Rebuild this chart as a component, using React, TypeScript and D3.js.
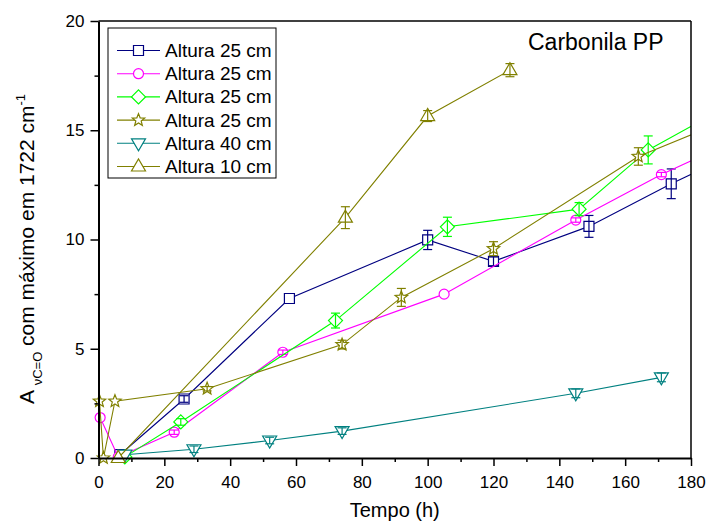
import * as d3 from 'd3';
import React, { useEffect, useRef } from 'react';

// Data (time in h, absorbance, error bar half-height)
const legendLabels = ['Altura 25 cm', 'Altura 25 cm', 'Altura 25 cm', 'Altura 25 cm', 'Altura 40 cm', 'Altura 10 cm'];

const hoursSquare = [6.5, 26, 58, 100, 120, 149, 174, 190];
const valuesSquare = [0.15, 2.7, 7.3, 9.98, 9.0, 10.6, 12.55, 13.7];
const errorsSquare = [0.1, 0.15, 0, 0.44, 0.2, 0.5, 0.68, 0];

const hoursCircle = [0.5, 6, 23, 56, 105, 145, 171, 190];
const valuesCircle = [1.85, 0.05, 1.18, 4.84, 7.5, 10.89, 12.97, 14.3];
const errorsCircle = [0, 0, 0.1, 0.1, 0, 0.1, 0.1, 0];

const hoursDiamond = [8, 25, 72, 106, 146, 167, 190];
const valuesDiamond = [0.05, 1.65, 6.29, 10.58, 11.39, 14.1, 16.0];
const errorsDiamond = [0, 0.15, 0.34, 0.44, 0.3, 0.64, 0];

const hoursStar = [0.3, 1.5, 5, 33, 74, 92, 120, 164, 190];
const valuesStar = [2.6, 0, 2.6, 3.17, 5.19, 7.35, 9.58, 13.8, 15.4];
const errorsStar = [0, 0, 0, 0.1, 0.2, 0.41, 0.32, 0.4, 0];

const hoursDown = [8, 29, 52, 74, 145, 171];
const valuesDown = [0.15, 0.4, 0.8, 1.23, 2.96, 3.69];
const errorsDown = [0, 0.15, 0.15, 0.15, 0.2, 0.2];

const hoursUp = [6, 75, 100, 125];
const valuesUp = [0, 11.0, 15.65, 17.75];
const errorsUp = [0, 0.5, 0.25, 0.3];

const xTicks = [0, 20, 40, 60, 80, 100, 120, 140, 160, 180];
const yTicks = [0, 5, 10, 15, 20];

const FONT = '"Liberation Sans", Arial, sans-serif';

// marker outlines centred on 0,0
function markerPath(shape) {
  switch (shape) {
    case 'square':
      return 'M-5,-5H5V5H-5Z';
    case 'circle':
      return 'M-5,0A5,5 0 1,0 5,0A5,5 0 1,0 -5,0Z';
    case 'diamond':
      return 'M0,-7L7,0L0,7L-7,0Z';
    case 'star': {
      const pts = d3.range(10).map(i => {
        const r = i % 2 === 0 ? 6.5 : 2.8;
        const a = (Math.PI / 5) * i - Math.PI / 2;
        return [r * Math.cos(a), r * Math.sin(a)];
      });
      return 'M' + pts.map(p => p.join(',')).join('L') + 'Z';
    }
    case 'down':
      return 'M-7,-4.5L7,-4.5L0,7.5Z';
    case 'up':
      return 'M-7,4.5L7,4.5L0,-7.5Z';
    default:
      return '';
  }
}

function App() {
  const myRef = useRef(null);

  useEffect(() => {
    const svg = d3.select(myRef.current);
    svg.selectAll('*').remove();

    const left = 98.5, right = 691, top = 21, bottom = 458;

    const xScale = d3.scaleLinear().domain([0, 180]).range([left, right]);
    const yScale = d3.scaleLinear().domain([0, 20]).range([bottom, top]);

    const series = [
      { label: legendLabels[0], color: '#000080', shape: 'square', hours: hoursSquare, values: valuesSquare, errors: errorsSquare },
      { label: legendLabels[1], color: '#ff00ff', shape: 'circle', hours: hoursCircle, values: valuesCircle, errors: errorsCircle },
      { label: legendLabels[2], color: '#00ff00', shape: 'diamond', hours: hoursDiamond, values: valuesDiamond, errors: errorsDiamond },
      { label: legendLabels[3], color: '#808000', shape: 'star', hours: hoursStar, values: valuesStar, errors: errorsStar },
      { label: legendLabels[4], color: '#008080', shape: 'down', hours: hoursDown, values: valuesDown, errors: errorsDown },
      { label: legendLabels[5], color: '#808000', shape: 'up', hours: hoursUp, values: valuesUp, errors: errorsUp },
    ];

    svg.append('defs').append('clipPath').attr('id', 'plot-clip')
      .append('rect')
      .attr('x', left).attr('y', top)
      .attr('width', right - left).attr('height', bottom - top);

    const line = d3.line()
      .x(d => xScale(d[0]))
      .y(d => yScale(d[1]));

    // lines, markers and error bars, series after series
    series.forEach(s => {
      const pts = s.hours.map((h, i) => [h, s.values[i], s.errors[i]]);
      const g = svg.append('g');

      g.append('path')
        .attr('d', line(pts))
        .attr('fill', 'none')
        .attr('stroke', s.color)
        .attr('stroke-width', 1.1)
        .attr('clip-path', 'url(#plot-clip)');

      const shown = pts.filter(p => p[0] <= 180);

      g.selectAll('.mark')
        .data(shown)
        .join('path')
        .attr('class', 'mark')
        .attr('transform', d => `translate(${xScale(d[0])},${yScale(d[1])})`)
        .attr('d', markerPath(s.shape))
        .attr('fill', 'white')
        .attr('stroke', s.color)
        .attr('stroke-width', 1.2);

      const bars = g.selectAll('.err')
        .data(shown.filter(p => p[2] > 0))
        .join('g')
        .attr('class', 'err')
        .attr('stroke', s.color)
        .attr('stroke-width', 1.2);
      bars.append('line')
        .attr('x1', d => xScale(d[0])).attr('x2', d => xScale(d[0]))
        .attr('y1', d => yScale(d[1] - d[2])).attr('y2', d => yScale(d[1] + d[2]));
      bars.append('line')
        .attr('x1', d => xScale(d[0]) - 4.5).attr('x2', d => xScale(d[0]) + 4.5)
        .attr('y1', d => yScale(d[1] + d[2])).attr('y2', d => yScale(d[1] + d[2]));
      bars.append('line')
        .attr('x1', d => xScale(d[0]) - 4.5).attr('x2', d => xScale(d[0]) + 4.5)
        .attr('y1', d => yScale(d[1] - d[2])).attr('y2', d => yScale(d[1] - d[2]));
    });

    // frame top / right
    svg.append('line')
      .attr('x1', left).attr('x2', right).attr('y1', top).attr('y2', top)
      .attr('stroke', 'black').attr('stroke-width', 1.5);
    svg.append('line')
      .attr('x1', right).attr('x2', right).attr('y1', top).attr('y2', bottom)
      .attr('stroke', 'black').attr('stroke-width', 1.5);

    // x axis (minor then major)
    svg.append('g')
      .attr('transform', `translate(0,${bottom})`)
      .call(d3.axisBottom(xScale).tickValues(d3.range(10, 180, 20)).tickSize(4).tickSizeOuter(0).tickFormat(() => ''))
      .call(g => g.select('.domain').remove())
      .call(g => g.selectAll('line').attr('stroke-width', 1.5));
    svg.append('g')
      .attr('transform', `translate(0,${bottom})`)
      .call(d3.axisBottom(xScale).tickValues(xTicks).tickSize(8).tickSizeOuter(0).tickPadding(10))
      .call(g => g.select('.domain').attr('stroke-width', 2))
      .call(g => g.selectAll('line').attr('stroke-width', 1.5))
      .call(g => g.selectAll('text').attr('font-size', 17).attr('font-family', FONT).attr('fill', 'black'));

    // y axis
    svg.append('g')
      .attr('transform', `translate(${left},0)`)
      .call(d3.axisLeft(yScale).tickValues(d3.range(2.5, 20, 5)).tickSize(4).tickSizeOuter(0).tickFormat(() => ''))
      .call(g => g.select('.domain').remove())
      .call(g => g.selectAll('line').attr('stroke-width', 1.5));
    svg.append('g')
      .attr('transform', `translate(${left},0)`)
      .call(d3.axisLeft(yScale).tickValues(yTicks).tickSize(8).tickSizeOuter(0).tickPadding(6))
      .call(g => g.select('.domain').attr('stroke-width', 2))
      .call(g => g.selectAll('line').attr('stroke-width', 1.5))
      .call(g => g.selectAll('text').attr('font-size', 17).attr('font-family', FONT).attr('fill', 'black'));

    // axis titles
    svg.append('text')
      .attr('x', (left + right) / 2).attr('y', 517)
      .attr('text-anchor', 'middle')
      .attr('font-family', FONT).attr('font-size', 20)
      .text('Tempo (h)');

    const yTitle = svg.append('text')
      .attr('transform', 'translate(34,404) rotate(-90)')
      .attr('font-family', FONT).attr('font-size', 21);
    yTitle.append('tspan').text('A ');
    yTitle.append('tspan').attr('font-size', 13).attr('dy', 8).text('νC=O');
    yTitle.append('tspan').attr('dy', -8).text(' com máximo em 1722 cm');
    yTitle.append('tspan').attr('font-size', 13).attr('dy', -9).text('-1');

    // panel title
    svg.append('text')
      .attr('x', 528).attr('y', 50)
      .attr('font-family', FONT).attr('font-size', 23)
      .text('Carbonila PP');

    // legend
    const legend = svg.append('g');
    legend.append('rect')
      .attr('x', 108).attr('y', 28).attr('width', 168).attr('height', 150)
      .attr('fill', 'white').attr('stroke', 'black').attr('stroke-width', 1);
    series.forEach((s, i) => {
      const y = 50.5 + i * 23.2;
      legend.append('line')
        .attr('x1', 117).attr('x2', 160).attr('y1', y).attr('y2', y)
        .attr('stroke', s.color).attr('stroke-width', 1.1);
      legend.append('path')
        .attr('transform', `translate(138.5,${y})`)
        .attr('d', markerPath(s.shape))
        .attr('fill', 'white').attr('stroke', s.color).attr('stroke-width', 1.2);
      legend.append('text')
        .attr('x', 165).attr('y', y + 6.5)
        .attr('font-family', FONT).attr('font-size', 19)
        .text(s.label);
    });
  }, []);

  return (
    <svg ref={myRef} width={708} height={523}
      style={{ position: 'absolute', left: 0, top: 0, background: 'white' }} />
  );
}

export default App;
